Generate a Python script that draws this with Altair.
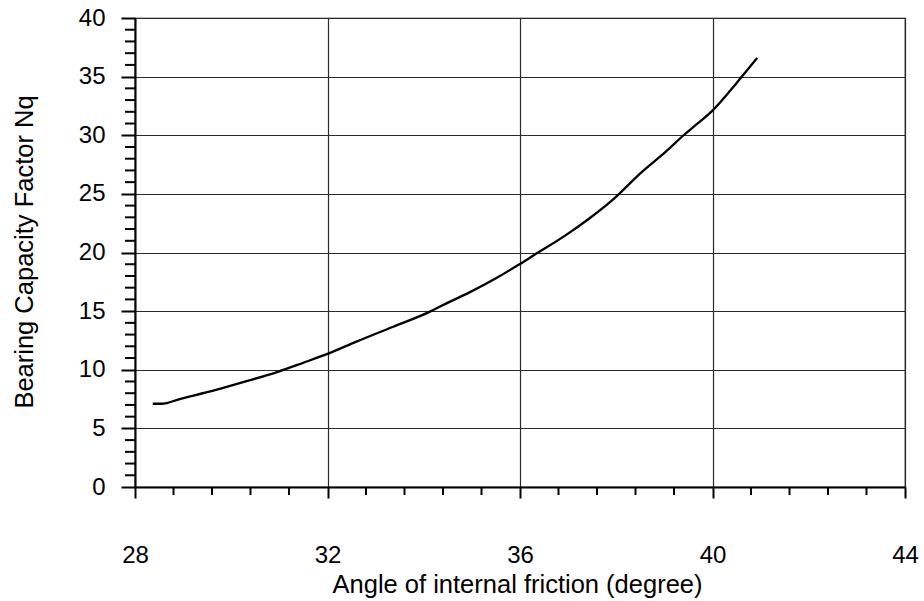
import altair as alt
import pandas as pd

# Curve
phi = [28.37, 28.55, 28.93, 29.7, 30.3, 30.95, 31.5, 32.0, 32.6, 33.35, 34.15,
       34.32, 34.95, 35.5, 35.97, 36.3, 36.96, 37.44, 37.9, 38.54, 39.03,
       39.4, 39.66, 40.0, 40.49, 40.65, 40.93]
nq = [7.1, 7.1, 7.5, 8.3, 9.0, 9.8, 10.6, 11.35, 12.4, 13.65, 15.0,
      15.36, 16.6, 17.8, 18.95, 19.8, 21.5, 22.9, 24.4, 26.9, 28.6,
      30.0, 30.9, 32.1, 34.4, 35.2, 36.6]

x_major = [28, 32, 36, 40, 44]
x_minor = [28.8, 29.6, 30.4, 31.2, 32.8, 33.6, 34.4, 35.2, 36.8, 37.6, 38.4,
           39.2, 40.8, 41.6, 42.4, 43.2]
y_major = [0, 5, 10, 15, 20, 25, 30, 35, 40]
y_minor = [1, 2, 3, 4, 6, 7, 8, 9, 11, 12, 13, 14, 16, 17, 18, 19, 21, 22, 23,
           24, 26, 27, 28, 29, 31, 32, 33, 34, 36, 37, 38, 39]

W, H = 770, 469
FONT = "Liberation Sans"

curve = pd.DataFrame({"phi": phi, "nq": nq})
xminor_df = pd.DataFrame({"phi": x_minor})
yminor_df = pd.DataFrame({"nq": y_minor})

xs = alt.Scale(domain=[28, 44], nice=False, zero=False)
ys = alt.Scale(domain=[0, 40], nice=False)

xaxis = alt.Axis(
    title="Angle of internal friction (degree)", values=x_major, format="d",
    tickSize=11, tickWidth=2, tickColor="black",
    domainColor="black", domainWidth=2,
    grid=True, gridColor="#2a2a2a", gridWidth=1.2,
    labelFont=FONT, labelFontSize=24, labelColor="black",
    labelBaseline="alphabetic", labelPadding=64, labelFlush=False,
    titleFont=FONT, titleFontSize=25.5, titleFontWeight="normal", titleColor="black",
    titleX=382, titleY=105, titleBaseline="alphabetic", titleAlign="center",
)
yaxis = alt.Axis(
    title="Bearing Capacity Factor Nq", values=y_major, format="d",
    tickSize=14, tickWidth=2, tickColor="black",
    domainColor="black", domainWidth=2,
    grid=True, gridColor="#2a2a2a", gridWidth=1.2,
    labelFont=FONT, labelFontSize=24, labelColor="black",
    labelPadding=16, labelFlush=False,
    titleFont=FONT, titleFontSize=25.5, titleFontWeight="normal", titleColor="black",
    titleX=-103, titleY=233.5, titleBaseline="alphabetic", titleAlign="center",
    titleAngle=270,
)

line = alt.Chart(curve).mark_line(color="black", strokeWidth=2.3, interpolate="monotone").encode(
    x=alt.X("phi:Q", scale=xs, axis=xaxis),
    y=alt.Y("nq:Q", scale=ys, axis=yaxis),
)

xminor = alt.Chart(xminor_df).mark_rule(color="black", strokeWidth=2).encode(
    x=alt.X("phi:Q", scale=xs, axis=xaxis),
    y=alt.value(H),
    y2=alt.value(H + 8),
)

yminor = alt.Chart(yminor_df).mark_rule(color="black", strokeWidth=2).encode(
    y=alt.Y("nq:Q", scale=ys, axis=yaxis),
    x=alt.value(0),
    x2=alt.value(-10),
)

chart = (
    alt.layer(xminor, yminor, line)
    .properties(
        width=W, height=H,
        autosize=alt.AutoSizeParams(type="none"),
        padding={"left": 135, "top": 18, "right": 19, "bottom": 114},
        background="white",
    )
    .configure_view(stroke="black", strokeWidth=1.2)
)

chart.save("out.html", embed_options={"renderer": "svg", "actions": False})
